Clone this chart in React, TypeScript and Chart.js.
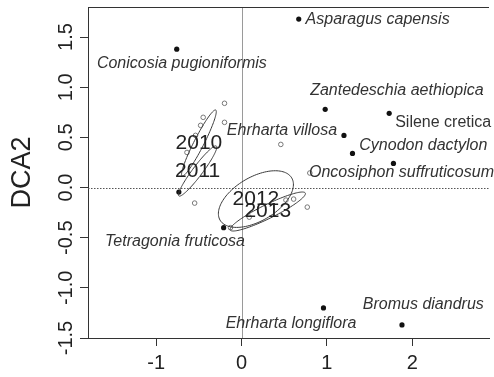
import React, { useEffect, useRef } from "react";
import { Chart, registerables } from "chart.js";

Chart.register(...registerables);

// Axis ticks
const xTicks = [-1, 0, 1, 2];
const yTicks = [-1.5, -1.0, -0.5, 0, 0.5, 1.0, 1.5];

// Species scores (DCA1, DCA2)
const speciesNames = [
  "Conicosia pugioniformis",
  "Asparagus capensis",
  "Zantedeschia aethiopica",
  "Silene cretica",
  "Ehrharta villosa",
  "Cynodon dactylon",
  "Oncosiphon suffruticosum",
  "Tetragonia fruticosa",
  "Ehrharta longiflora",
  "Bromus diandrus",
  "",
];
const speciesX = [-0.76, 0.67, 0.98, 1.73, 1.2, 1.3, 1.78, -0.21, 0.96, 1.88, -0.735];
const speciesY = [1.38, 1.68, 0.78, 0.74, 0.52, 0.34, 0.24, -0.4, -1.2, -1.37, -0.045];

// Where each species name is written (data units) and how it is anchored
const labelX = [-0.7, 0.75, 1.82, 1.8, 1.12, 1.38, 0.79, -0.78, 0.58, 2.13, 0];
const labelY = [1.24, 1.67, 0.97, 0.65, 0.57, 0.42, 0.145, -0.535, -1.36, -1.17, 0];
const labelAlign: CanvasTextAlign[] = [
  "center", "left", "center", "left", "right", "left", "left", "center", "center", "center", "center",
];
const labelItalic = [true, true, true, false, true, true, true, true, true, true, true];

// Site scores
const sampleX = [
  -0.2, -0.2, 0.46, -0.55, 0.61, 0.77, 0.8, 0.52, 0.09, -0.45, -0.48, -0.64, -0.54, -0.13,
];
const sampleY = [
  0.84, 0.65, 0.43, -0.155, -0.115, -0.195, 0.145, -0.125, -0.295, 0.7, 0.62, 0.35, 0.52, -0.4,
];

// Year ellipses: centre and two conjugate semi-axes (data units)
const years = ["2010", "2011", "2012", "2013"];
const ellCX = [-0.5, -0.515, 0.168, 0.307];
const ellCY = [0.444, 0.165, -0.115, -0.239];
const ellUX = [0.197, 0.22, 0.421, 0.44];
const ellUY = [0.329, 0.249, 0.209, 0.184];
const ellVX = [0.0515, 0.046, 0.127, 0.0354];
const ellVY = [-0.0228, -0.03, -0.19, -0.0627];

const FONT = "'Liberation Sans', Arial, sans-serif";

const overlay = {
  id: "overlay",
  beforeDatasetsDraw(chart: any) {
    const { ctx, chartArea: a, scales } = chart;
    const xs = scales.x;
    const ys = scales.y;
    ctx.save();
    ctx.lineWidth = 1;
    // vertical zero line
    const x0 = Math.round(xs.getPixelForValue(0)) + 0.5;
    ctx.strokeStyle = "#9a9a9a";
    ctx.beginPath();
    ctx.moveTo(x0, a.top);
    ctx.lineTo(x0, a.bottom);
    ctx.stroke();
    // dotted horizontal zero line
    const y0 = Math.round(ys.getPixelForValue(0)) + 0.5;
    ctx.strokeStyle = "#555";
    ctx.setLineDash([1.5, 1.5]);
    ctx.beginPath();
    ctx.moveTo(a.left, y0);
    ctx.lineTo(a.right, y0);
    ctx.stroke();
    ctx.setLineDash([]);
    // top frame
    ctx.strokeStyle = "#333";
    ctx.beginPath();
    ctx.moveTo(a.left, a.top + 0.5);
    ctx.lineTo(a.right, a.top + 0.5);
    ctx.stroke();
    ctx.restore();
  },
  afterDatasetsDraw(chart: any) {
    const { ctx, scales } = chart;
    const xs = scales.x;
    const ys = scales.y;
    ctx.save();
    // ellipses
    ctx.strokeStyle = "#3a3a3a";
    ctx.lineWidth = 1;
    for (let i = 0; i < years.length; i++) {
      ctx.beginPath();
      const n = 120;
      for (let k = 0; k <= n; k++) {
        const t = (k / n) * Math.PI * 2;
        const vx = ellCX[i] + ellUX[i] * Math.cos(t) + ellVX[i] * Math.sin(t);
        const vy = ellCY[i] + ellUY[i] * Math.cos(t) + ellVY[i] * Math.sin(t);
        const px = xs.getPixelForValue(vx);
        const py = ys.getPixelForValue(vy);
        if (k === 0) ctx.moveTo(px, py);
        else ctx.lineTo(px, py);
      }
      ctx.stroke();
    }
    // year labels at ellipse centres
    ctx.fillStyle = "#222";
    ctx.font = `21px ${FONT}`;
    ctx.textAlign = "center";
    ctx.textBaseline = "middle";
    for (let i = 0; i < years.length; i++) {
      ctx.fillText(years[i], xs.getPixelForValue(ellCX[i]), ys.getPixelForValue(ellCY[i]));
    }
    // species names
    ctx.fillStyle = "#333";
    for (let i = 0; i < speciesNames.length; i++) {
      if (!speciesNames[i]) continue;
      ctx.font = `${labelItalic[i] ? "italic " : ""}16px ${FONT}`;
      ctx.textAlign = labelAlign[i];
      ctx.fillText(speciesNames[i], xs.getPixelForValue(labelX[i]), ys.getPixelForValue(labelY[i]));
    }
    ctx.restore();
  },
  afterDraw(chart: any) {
    const { ctx, chartArea: a, scales } = chart;
    const ys = scales.y;
    ctx.save();
    ctx.fillStyle = "#222";
    ctx.textAlign = "center";
    ctx.textBaseline = "middle";
    ctx.font = `20px ${FONT}`;
    for (const v of yTicks) {
      ctx.save();
      ctx.translate(a.left - 22, ys.getPixelForValue(v));
      ctx.rotate(-Math.PI / 2);
      ctx.fillText(v.toFixed(1), 0, 0);
      ctx.restore();
    }
    ctx.font = `27px ${FONT}`;
    ctx.save();
    ctx.translate(a.left - 65, (a.top + a.bottom) / 2);
    ctx.rotate(-Math.PI / 2);
    ctx.fillText("DCA2", 0, 0);
    ctx.restore();
    ctx.restore();
  },
};

export default function App() {
  const ref = useRef<HTMLCanvasElement | null>(null);

  useEffect(() => {
    if (!ref.current) return;
    const chart = new Chart(ref.current, {
      type: "scatter",
      data: {
        datasets: [
          {
            label: "species",
            data: speciesX.map((x, i) => ({ x, y: speciesY[i] })),
            pointRadius: 2.6,
            pointBackgroundColor: "#111",
            pointBorderColor: "#111",
            pointBorderWidth: 0,
          },
          {
            label: "sites",
            data: sampleX.map((x, i) => ({ x, y: sampleY[i] })),
            pointRadius: 2.3,
            pointBackgroundColor: "rgba(255,255,255,0)",
            pointBorderColor: "#777",
            pointBorderWidth: 1,
          },
        ],
      },
      options: {
        animation: false,
        responsive: false,
        devicePixelRatio: 1,
        layout: { padding: { top: 7, right: 0, bottom: 0, left: 0 } },
        plugins: { legend: { display: false }, tooltip: { enabled: false } },
        scales: {
          x: {
            type: "linear",
            min: -1.8,
            max: 2.9,
            afterBuildTicks: (s: any) => {
              s.ticks = xTicks.map((v) => ({ value: v }));
            },
            afterFit: (s: any) => {
              s.height = 39;
            },
            grid: { drawOnChartArea: false, drawTicks: true, tickLength: 8, color: "#333" },
            border: { display: true, color: "#333", width: 1 },
            ticks: {
              color: "#222",
              font: { family: FONT, size: 20 },
              padding: 5,
              maxRotation: 0,
              callback: (v: any) => String(v),
            },
          },
          y: {
            type: "linear",
            min: -1.5,
            max: 1.8,
            afterBuildTicks: (s: any) => {
              s.ticks = yTicks.map((v) => ({ value: v }));
            },
            afterFit: (s: any) => {
              s.width = 88;
            },
            grid: { drawOnChartArea: false, drawTicks: true, tickLength: 8, color: "#333" },
            border: { display: true, color: "#333", width: 1 },
            ticks: { display: false },
          },
        },
      },
      plugins: [overlay],
    });
    return () => chart.destroy();
  }, []);

  return (
    <div style={{ position: "fixed", left: 0, top: 0, width: 494, height: 377, background: "#fff" }}>
      <canvas ref={ref} width={494} height={377} />
    </div>
  );
}
